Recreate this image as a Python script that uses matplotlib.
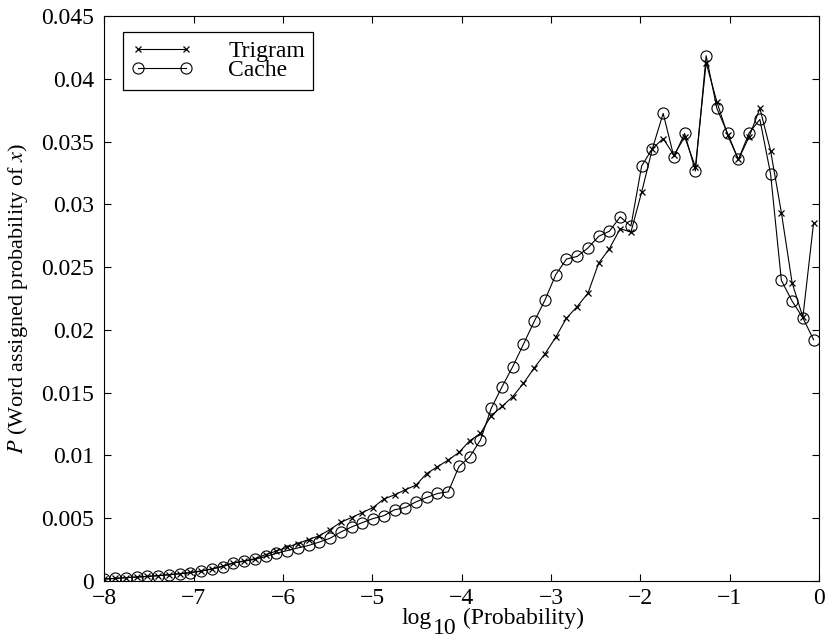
import numpy as np
import matplotlib
matplotlib.use('Agg')
import matplotlib.pyplot as plt
from matplotlib.ticker import FuncFormatter


# Data (log10 probability bins)

log_prob = np.linspace(-8, -0.06, 67)

trigram = [0.00016, 0.00021, 0.00027, 0.00032, 0.00037, 0.00043, 0.00050, 0.00058,
           0.00068, 0.00080, 0.00097, 0.00118, 0.00145, 0.00160, 0.00178, 0.00210,
           0.00238, 0.00268, 0.00298, 0.00330, 0.00360, 0.00410, 0.00468, 0.00505,
           0.00545, 0.00585, 0.00652, 0.00686, 0.00726, 0.00764, 0.00856, 0.00910,
           0.00963, 0.01024, 0.01117, 0.01175, 0.01317, 0.01390, 0.01468, 0.01574,
           0.01697, 0.01809, 0.01941, 0.02093, 0.02186, 0.02292, 0.02532, 0.02647,
           0.02806, 0.02779, 0.03098, 0.03444, 0.03524, 0.03391, 0.03537, 0.03298,
           0.04127, 0.03816, 0.03551, 0.03357, 0.03537, 0.03764, 0.03425, 0.02934,
           0.02375, 0.02101, 0.02854]

cache = [0.00015, 0.00020, 0.00026, 0.00031, 0.00036, 0.00042, 0.00049, 0.00057,
         0.00066, 0.00078, 0.00095, 0.00115, 0.00142, 0.00158, 0.00172, 0.00195,
         0.00220, 0.00242, 0.00263, 0.00283, 0.00310, 0.00340, 0.00390, 0.00430,
         0.00465, 0.00497, 0.00520, 0.00567, 0.00585, 0.00630, 0.00665, 0.00697,
         0.00710, 0.00912, 0.00989, 0.01123, 0.01375, 0.01546, 0.01707, 0.01886,
         0.02067, 0.02237, 0.02439, 0.02564, 0.02585, 0.02652, 0.02745, 0.02786,
         0.02900, 0.02827, 0.03306, 0.03444, 0.03724, 0.03378, 0.03564, 0.03266,
         0.04183, 0.03764, 0.03564, 0.03357, 0.03569, 0.03676, 0.03240, 0.02394,
         0.02229, 0.02096, 0.01921]

x_ticks = [-8, -7, -6, -5, -4, -3, -2, -1, 0]
y_ticks = [0, 0.005, 0.01, 0.015, 0.02, 0.025, 0.03, 0.035, 0.04, 0.045]


plt.rcParams['font.family'] = ['Liberation Serif', 'DejaVu Serif']
plt.rcParams['mathtext.fontset'] = 'stix'
plt.rcParams['font.size'] = 17

fig = plt.figure(figsize=(8.35, 6.39), dpi=100)
ax = fig.add_axes([0.125, 0.0908, 0.8558, 0.8842])

ax.plot(log_prob, trigram, color='black', linewidth=0.8, marker='x',
        markersize=5, markeredgewidth=0.9, label='Trigram')
ax.plot(log_prob, cache, color='black', linewidth=0.8, marker='o',
        markersize=8, markerfacecolor='none', markeredgewidth=0.8, label='Cache')

ax.set_xlim(-8, 0)
ax.set_ylim(0, 0.045)
ax.set_xticks(x_ticks)
ax.set_yticks(y_ticks)
ax.yaxis.set_major_formatter(FuncFormatter(lambda v, p: '%g' % v))
ax.tick_params(direction='in', length=5, top=True, right=True, labelsize=17)
ax.tick_params(axis='x', pad=5)
ax.tick_params(axis='y', pad=7.5)

ax.set_ylabel('$P$ (Word assigned probability of $x$)', fontsize=16, labelpad=8)

# x label, matlab style with a big subscript
fig.text(0.481, 0.0235, 'log', ha='left', va='baseline', fontsize=17)
fig.text(0.519, 0.0078, '10', ha='left', va='baseline', fontsize=17)
fig.text(0.554, 0.0235, '(Probability)', ha='left', va='baseline', fontsize=17)

leg = ax.legend(loc='upper left', bbox_to_anchor=(0.0256, 0.971), borderaxespad=0,
                fancybox=False, edgecolor='black', framealpha=1, fontsize=17,
                numpoints=2, handlelength=2.63, handletextpad=1.5,
                labelspacing=-0.1, borderpad=0.35)
leg.get_frame().set_linewidth(0.9)

fig.savefig('out.png', dpi=100)
